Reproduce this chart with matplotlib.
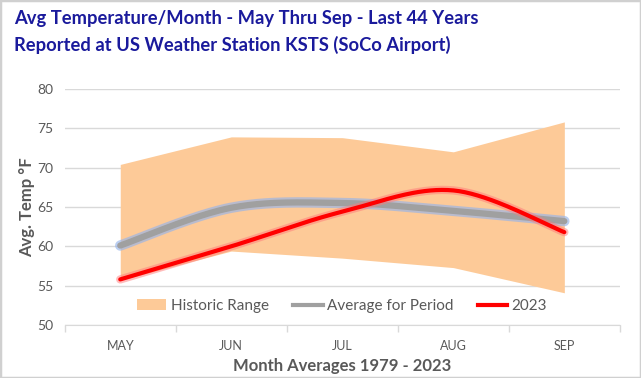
import numpy as np
import matplotlib.pyplot as plt
import matplotlib.patheffects as pe
from matplotlib.patches import Patch, Rectangle
from matplotlib.lines import Line2D

# dados
meses = ["MAY", "JUN", "JUL", "AUG", "SEP"]
hist_max = [70.4, 73.9, 73.8, 72.0, 75.8]
hist_min = [55.7, 59.4, 58.5, 57.3, 54.1]
media = [60.1, 64.9, 65.5, 64.5, 63.2]
ano_2023 = [55.8, 60.0, 64.4, 67.1, 61.8]

plt.rcParams['font.family'] = ['Lato', 'DejaVu Sans']

cinza_txt = '#595959'
grade = '#D9D9D9'


# curva suavizada estilo Excel (bezier tipo Catmull-Rom)
def suavizar(x, y, n=40):
    x = np.asarray(x, float)
    y = np.asarray(y, float)
    px = np.concatenate([[x[0]], x, [x[-1]]])
    py = np.concatenate([[y[0]], y, [y[-1]]])
    xs, ys = [], []
    t = np.linspace(0, 1, n)
    for i in range(1, len(px) - 2):
        p0 = np.array([px[i], py[i]])
        p3 = np.array([px[i + 1], py[i + 1]])
        c1 = p0 + (p3 - np.array([px[i - 1], py[i - 1]])) / 6
        c2 = p3 - (np.array([px[i + 2], py[i + 2]]) - p0) / 6
        b = ((1 - t) ** 3)[:, None] * p0 + (3 * (1 - t) ** 2 * t)[:, None] * c1 \
            + (3 * (1 - t) * t ** 2)[:, None] * c2 + (t ** 3)[:, None] * p3
        xs.append(b[:, 0])
        ys.append(b[:, 1])
    return np.concatenate(xs), np.concatenate(ys)


fig = plt.figure(figsize=(6.41, 3.78), dpi=100)
ax = fig.add_axes([0.101, 0.140, 0.866, 0.625])

x = np.arange(len(meses))

# faixa historica
ax.fill_between(x, hist_min, hist_max, color='#FDCA98', lw=0, zorder=2)

# media do periodo
xm, ym = suavizar(x, media)
ax.plot(xm, ym, color='#A0A0A0', lw=4.5, solid_capstyle='round', zorder=3,
        path_effects=[pe.Stroke(linewidth=7.5, foreground='#95B4EA', alpha=0.65), pe.Normal()])

# 2023
xr, yr = suavizar(x, ano_2023)
ax.plot(xr, yr, color='#FF0000', lw=3, solid_capstyle='round', zorder=4,
        path_effects=[pe.Stroke(linewidth=6, foreground='#FF7A7A', alpha=0.5), pe.Normal()])

ax.set_xlim(-0.5, len(meses) - 0.5)
ax.set_ylim(50, 80)
ax.set_yticks(np.arange(50, 81, 5))
ax.set_xticks(x)
ax.set_xticklabels(meses)
ax.set_xticks(np.arange(-0.5, len(meses), 1), minor=True)
ax.tick_params(axis='x', which='major', length=0, pad=11, labelsize=9, colors=cinza_txt)
ax.tick_params(axis='x', which='minor', length=5, color=grade, width=1)
ax.tick_params(axis='y', length=0, pad=8, labelsize=10, colors=cinza_txt)

ax.grid(axis='y', color=grade, lw=1, zorder=0)
ax.set_axisbelow(True)
for s in ['top', 'right', 'left']:
    ax.spines[s].set_visible(False)
ax.spines['bottom'].set_color(grade)

ax.set_ylabel("Avg. Temp °F", fontsize=12, fontweight='bold', color=cinza_txt, labelpad=2)
ax.set_xlabel("Month Averages 1979 - 2023", fontsize=12, fontweight='bold', color=cinza_txt, labelpad=4)

handles = [Patch(color='#FDCA98', lw=0),
           Line2D([], [], color='#A0A0A0', lw=3),
           Line2D([], [], color='#FF0000', lw=3)]
ax.legend(handles, ["Historic Range", "Average for Period", "2023"], ncol=3,
          loc='center', bbox_to_anchor=(0.5, 0.08), frameon=False, fontsize=11,
          labelcolor=cinza_txt, handlelength=1.9, handletextpad=0.3, columnspacing=1.6)

fig.text(0.022, 0.952, "Avg Temperature/Month - May Thru Sep - Last 44 Years",
         fontsize=13.25, fontweight='bold', color='#1A1A9C', va='center')
fig.text(0.022, 0.881, "Reported at US Weather Station KSTS (SoCo Airport)",
         fontsize=13.25, fontweight='bold', color='#1A1A9C', va='center')

fig.patches.append(Rectangle((0, 0), 1, 1, transform=fig.transFigure, fill=False,
                             edgecolor='#D0D0D0', lw=2.5))

fig.savefig("out.png", dpi=100)
